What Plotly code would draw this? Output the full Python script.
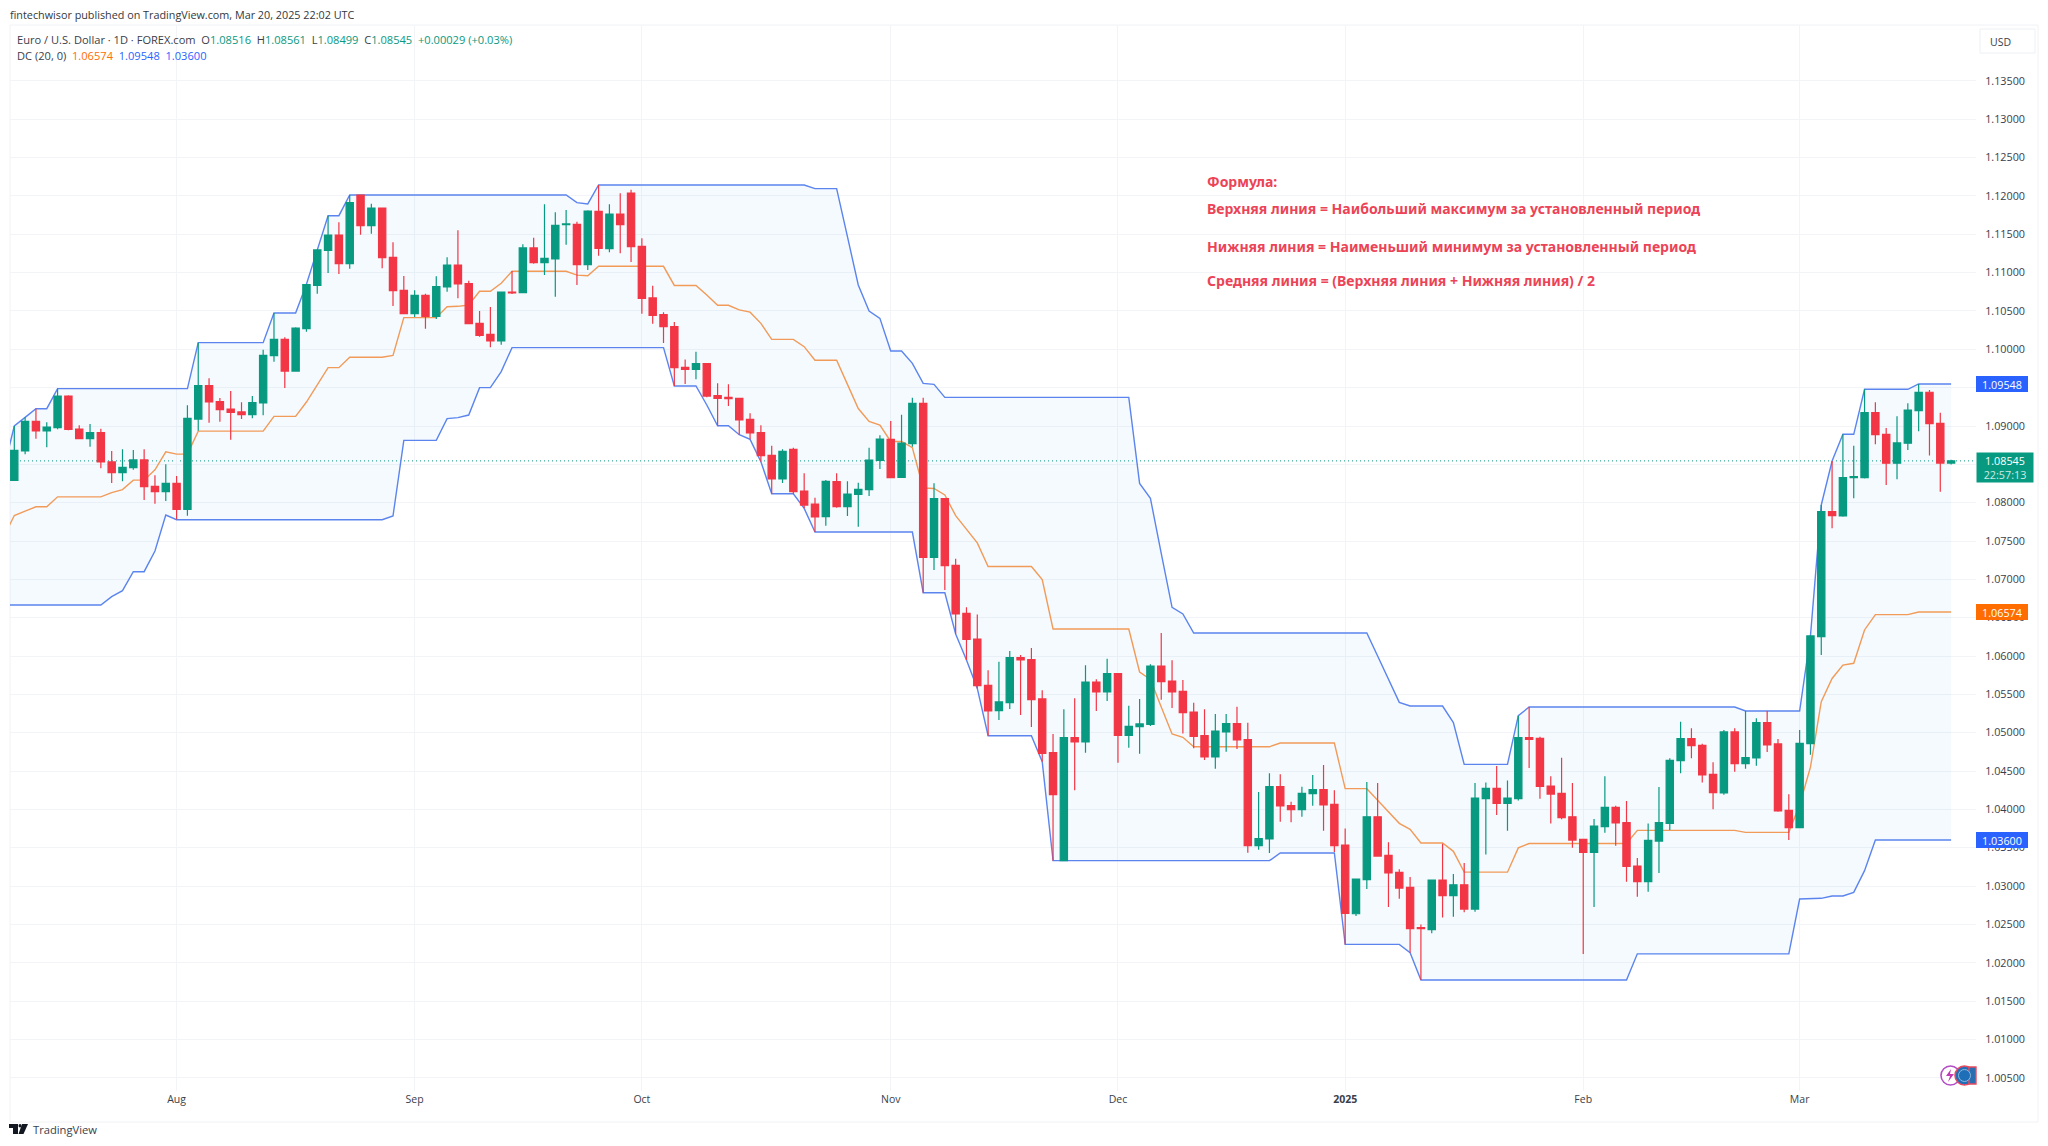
import plotly.graph_objects as go

# EUR/USD daily candles, one row per ten sessions
opens = [
    1.08291, 1.08674, 1.09061, 1.08935, 1.08978, 1.09391, 1.08961, 1.08835, 1.08913, 1.08531,
    1.08391, 1.08457, 1.08557, 1.08213, 1.08144, 1.08252, 1.07913, 1.09091, 1.09526, 1.09317,
    1.09222, 1.09183, 1.09148, 1.09300, 1.09917, 1.10130, 1.09717, 1.10270, 1.10835, 1.11291,
    1.11491, 1.11117, 1.12013, 1.11613, 1.11843, 1.11200, 1.10770, 1.10465, 1.10704, 1.10430,
    1.10813, 1.11100, 1.10856, 1.10339, 1.10196, 1.10109, 1.10748, 1.10739, 1.11322, 1.11130,
    1.11178, 1.11626, 1.11630, 1.11104, 1.11800, 1.11313, 1.11765, 1.12039, 1.11343, 1.10670,
    1.10452, 1.10296, 1.09765, 1.09739, 1.09813, 1.09396, 1.09374, 1.09361, 1.09087, 1.08913,
    1.08617, 1.08309, 1.08696, 1.08152, 1.07983, 1.07817, 1.08274, 1.07948, 1.08109, 1.08170,
    1.08552, 1.08826, 1.08330, 1.08769, 1.09296, 1.07287, 1.08052, 1.07183, 1.06556, 1.06222,
    1.05617, 1.05288, 1.05392, 1.05979, 1.05953, 1.05440, 1.04740, 1.03331, 1.04935, 1.04879,
    1.05661, 1.05531, 1.05770, 1.04966, 1.05079, 1.05109, 1.05870, 1.05674, 1.05540, 1.05270,
    1.04961, 1.04683, 1.05009, 1.05118, 1.04909, 1.03527, 1.03614, 1.04296, 1.04048, 1.03996,
    1.04205, 1.04257, 1.04065, 1.03535, 1.02639, 1.03083, 1.03904, 1.03400, 1.03178, 1.02983,
    1.02457, 1.02431, 1.03078, 1.02874, 1.03017, 1.02700, 1.04139, 1.04274, 1.04078, 1.04139,
    1.04935, 1.04926, 1.04304, 1.04209, 1.03904, 1.03609, 1.03439, 1.03774, 1.04026, 1.03826,
    1.03261, 1.03057, 1.03587, 1.03818, 1.04636, 1.04922, 1.04835, 1.04457, 1.04214, 1.05010,
    1.04596, 1.04670, 1.05131, 1.04853, 1.03988, 1.03762, 1.04857, 1.06253, 1.07883, 1.07827,
    1.08327, 1.08327, 1.09174, 1.08892, 1.08514, 1.08775, 1.09201, 1.09440, 1.09035, 1.08516,
]
highs = [
    1.09000, 1.09113, 1.09226, 1.09048, 1.09487, 1.09400, 1.09009, 1.09026, 1.08965, 1.08674,
    1.08696, 1.08687, 1.08696, 1.08357, 1.08500, 1.08348, 1.09270, 1.10087, 1.09622, 1.09365,
    1.09457, 1.09309, 1.09391, 1.09996, 1.10474, 1.10156, 1.10287, 1.10848, 1.11300, 1.11743,
    1.11656, 1.12013, 1.12017, 1.11900, 1.11848, 1.11396, 1.10956, 1.10770, 1.10726, 1.10952,
    1.11200, 1.11552, 1.10896, 1.10500, 1.10552, 1.10752, 1.11022, 1.11369, 1.11456, 1.11891,
    1.11787, 1.11817, 1.11665, 1.11813, 1.12143, 1.11891, 1.12035, 1.12082, 1.11448, 1.10830,
    1.10483, 1.10357, 1.09869, 1.09969, 1.09817, 1.09556, 1.09543, 1.09370, 1.09165, 1.09009,
    1.08743, 1.08696, 1.08717, 1.08383, 1.08065, 1.08296, 1.08383, 1.08278, 1.08261, 1.08717,
    1.08878, 1.09065, 1.09148, 1.09370, 1.09370, 1.08252, 1.08056, 1.07270, 1.06635, 1.06543,
    1.05813, 1.05927, 1.06066, 1.06014, 1.06105, 1.05553, 1.04983, 1.05305, 1.05448, 1.05879,
    1.05696, 1.05966, 1.05775, 1.05353, 1.05440, 1.05892, 1.06300, 1.05944, 1.05688, 1.05392,
    1.05305, 1.05244, 1.05244, 1.05340, 1.05131, 1.04227, 1.04470, 1.04457, 1.04101, 1.04296,
    1.04448, 1.04579, 1.04248, 1.03752, 1.03095, 1.04357, 1.04343, 1.03570, 1.03218, 1.03118,
    1.02500, 1.03083, 1.03552, 1.03157, 1.03300, 1.04343, 1.04352, 1.04565, 1.04378, 1.05222,
    1.05335, 1.04948, 1.04431, 1.04674, 1.04343, 1.03613, 1.03874, 1.04431, 1.04048, 1.04109,
    1.03365, 1.03817, 1.04291, 1.04666, 1.05144, 1.05057, 1.04857, 1.04614, 1.05036, 1.05057,
    1.05283, 1.05188, 1.05283, 1.04918, 1.04196, 1.05036, 1.06262, 1.07970, 1.08544, 1.08892,
    1.08744, 1.09479, 1.09309, 1.08974, 1.09127, 1.09296, 1.09548, 1.09470, 1.09174, 1.08561,
]
lows = [
    1.08283, 1.08631, 1.08835, 1.08722, 1.08957, 1.08944, 1.08826, 1.08730, 1.08448, 1.08257,
    1.08278, 1.08430, 1.08035, 1.07987, 1.08022, 1.07783, 1.07831, 1.08939, 1.09044, 1.09057,
    1.08822, 1.09091, 1.09100, 1.09139, 1.09839, 1.09496, 1.09709, 1.10230, 1.10726, 1.10996,
    1.10983, 1.11052, 1.11496, 1.11509, 1.11056, 1.10565, 1.10456, 1.10422, 1.10270, 1.10396,
    1.10752, 1.10665, 1.10326, 1.10165, 1.10026, 1.10061, 1.10722, 1.10735, 1.11117, 1.10970,
    1.10687, 1.11365, 1.10839, 1.11035, 1.11222, 1.11265, 1.11252, 1.11139, 1.10465, 1.10335,
    1.10083, 1.09522, 1.09548, 1.09609, 1.09374, 1.09004, 1.09261, 1.08887, 1.08826, 1.08535,
    1.08117, 1.08256, 1.08113, 1.07926, 1.07617, 1.07700, 1.07935, 1.07826, 1.07687, 1.08087,
    1.08439, 1.08317, 1.08322, 1.08730, 1.06826, 1.07122, 1.06861, 1.06287, 1.05948, 1.05578,
    1.04961, 1.05166, 1.05309, 1.05231, 1.05075, 1.04622, 1.03331, 1.03331, 1.04248, 1.04740,
    1.05283, 1.05414, 1.04609, 1.04805, 1.04727, 1.05088, 1.05431, 1.05322, 1.04988, 1.04796,
    1.04644, 1.04531, 1.04753, 1.04788, 1.03435, 1.03475, 1.03431, 1.03840, 1.03831, 1.03905,
    1.04048, 1.03722, 1.03444, 1.02239, 1.02609, 1.02961, 1.03383, 1.02726, 1.02835, 1.02131,
    1.01774, 1.02383, 1.02591, 1.02600, 1.02657, 1.02665, 1.03413, 1.03926, 1.03722, 1.04117,
    1.04539, 1.04139, 1.03817, 1.03870, 1.03500, 1.02113, 1.02726, 1.03696, 1.03526, 1.03057,
    1.02861, 1.02926, 1.03170, 1.03731, 1.04470, 1.04666, 1.04349, 1.04001, 1.04192, 1.04492,
    1.04531, 1.04570, 1.04749, 1.03970, 1.03601, 1.03753, 1.04714, 1.06014, 1.07666, 1.07818,
    1.08057, 1.08314, 1.08761, 1.08231, 1.08305, 1.08688, 1.08931, 1.08614, 1.08144, 1.08499,
]
closes = [
    1.08683, 1.09061, 1.08935, 1.08987, 1.09391, 1.08957, 1.08835, 1.08913, 1.08531, 1.08391,
    1.08461, 1.08557, 1.08209, 1.08144, 1.08252, 1.07913, 1.09100, 1.09526, 1.09313, 1.09213,
    1.09178, 1.09148, 1.09304, 1.09922, 1.10130, 1.09717, 1.10278, 1.10844, 1.11296, 1.11491,
    1.11117, 1.11913, 1.11613, 1.11843, 1.11196, 1.10765, 1.10465, 1.10704, 1.10430, 1.10817,
    1.11100, 1.10852, 1.10335, 1.10183, 1.10109, 1.10748, 1.10735, 1.11322, 1.11130, 1.11187,
    1.11617, 1.11635, 1.11104, 1.11804, 1.11317, 1.11765, 1.11626, 1.11339, 1.10665, 1.10443,
    1.10296, 1.09761, 1.09739, 1.09813, 1.09391, 1.09361, 1.09356, 1.09078, 1.08909, 1.08613,
    1.08309, 1.08669, 1.08143, 1.07969, 1.07813, 1.08278, 1.07948, 1.08113, 1.08174, 1.08556,
    1.08830, 1.08326, 1.08778, 1.09296, 1.07287, 1.08052, 1.07178, 1.06548, 1.06217, 1.05613,
    1.05283, 1.05401, 1.05979, 1.05948, 1.05431, 1.04731, 1.04192, 1.04935, 1.04879, 1.05661,
    1.05531, 1.05770, 1.04966, 1.05083, 1.05114, 1.05870, 1.05666, 1.05531, 1.05261, 1.04953,
    1.04683, 1.05022, 1.05118, 1.04905, 1.03527, 1.03618, 1.04296, 1.04044, 1.03996, 1.04209,
    1.04257, 1.04057, 1.03526, 1.02644, 1.03091, 1.03904, 1.03391, 1.03170, 1.02974, 1.02444,
    1.02444, 1.03078, 1.02874, 1.03017, 1.02700, 1.04148, 1.04274, 1.04078, 1.04148, 1.04935,
    1.04913, 1.04300, 1.04200, 1.03891, 1.03600, 1.03439, 1.03783, 1.04026, 1.03822, 1.03257,
    1.03057, 1.03596, 1.03826, 1.04640, 1.04922, 1.04831, 1.04449, 1.04218, 1.05010, 1.04596,
    1.04675, 1.05131, 1.04840, 1.03979, 1.03762, 1.04862, 1.06262, 1.07883, 1.07831, 1.08327,
    1.08340, 1.09174, 1.08888, 1.08514, 1.08779, 1.09209, 1.09440, 1.09031, 1.08516, 1.08545,
]

# Donchian channel (20, 0); the first value belongs to the session before the first candle
dc_upper = [
    1.08426,
    1.09000, 1.09113, 1.09226, 1.09226, 1.09487, 1.09487, 1.09487, 1.09487, 1.09487, 1.09487,
    1.09487, 1.09487, 1.09487, 1.09487, 1.09487, 1.09487, 1.09487, 1.10087, 1.10087, 1.10087,
    1.10087, 1.10087, 1.10087, 1.10087, 1.10474, 1.10474, 1.10474, 1.10848, 1.11300, 1.11743,
    1.11743, 1.12013, 1.12013, 1.12013, 1.12013, 1.12013, 1.12013, 1.12013, 1.12013, 1.12013,
    1.12013, 1.12013, 1.12013, 1.12013, 1.12013, 1.12013, 1.12013, 1.12013, 1.12013, 1.12013,
    1.12013, 1.12013, 1.11913, 1.11896, 1.12143, 1.12143, 1.12143, 1.12143, 1.12143, 1.12143,
    1.12143, 1.12143, 1.12143, 1.12143, 1.12143, 1.12143, 1.12143, 1.12143, 1.12143, 1.12143,
    1.12143, 1.12143, 1.12143, 1.12143, 1.12096, 1.12096, 1.12096, 1.11469, 1.10839, 1.10500,
    1.10404, 1.09978, 1.09978, 1.09817, 1.09556, 1.09543, 1.09374, 1.09374, 1.09374, 1.09374,
    1.09374, 1.09374, 1.09374, 1.09374, 1.09374, 1.09374, 1.09374, 1.09374, 1.09374, 1.09374,
    1.09374, 1.09374, 1.09374, 1.09374, 1.08252, 1.08057, 1.07339, 1.06635, 1.06548, 1.06300,
    1.06300, 1.06300, 1.06300, 1.06300, 1.06300, 1.06300, 1.06300, 1.06300, 1.06300, 1.06300,
    1.06300, 1.06300, 1.06300, 1.06300, 1.06300, 1.06300, 1.06000, 1.05687, 1.05396, 1.05348,
    1.05348, 1.05348, 1.05348, 1.05131, 1.04587, 1.04587, 1.04587, 1.04587, 1.04587, 1.05222,
    1.05335, 1.05335, 1.05335, 1.05335, 1.05335, 1.05335, 1.05335, 1.05335, 1.05335, 1.05335,
    1.05335, 1.05335, 1.05335, 1.05335, 1.05335, 1.05335, 1.05335, 1.05335, 1.05335, 1.05335,
    1.05283, 1.05283, 1.05283, 1.05283, 1.05283, 1.05283, 1.06262, 1.07970, 1.08544, 1.08892,
    1.08892, 1.09479, 1.09479, 1.09479, 1.09479, 1.09479, 1.09548, 1.09548, 1.09548, 1.09548,
]
dc_lower = [
    1.06665,
    1.06665, 1.06665, 1.06665, 1.06665, 1.06665, 1.06665, 1.06665, 1.06665, 1.06665, 1.06774,
    1.06852, 1.07100, 1.07100, 1.07370, 1.07839, 1.07778, 1.07778, 1.07778, 1.07778, 1.07778,
    1.07778, 1.07778, 1.07778, 1.07778, 1.07778, 1.07778, 1.07778, 1.07778, 1.07778, 1.07778,
    1.07778, 1.07778, 1.07778, 1.07778, 1.07778, 1.07826, 1.08813, 1.08813, 1.08813, 1.08813,
    1.09096, 1.09109, 1.09143, 1.09500, 1.09500, 1.09709, 1.10022, 1.10022, 1.10022, 1.10022,
    1.10022, 1.10022, 1.10022, 1.10022, 1.10022, 1.10022, 1.10022, 1.10022, 1.10022, 1.10022,
    1.10022, 1.09522, 1.09522, 1.09522, 1.09274, 1.09004, 1.09004, 1.08887, 1.08826, 1.08535,
    1.08117, 1.08117, 1.08117, 1.07926, 1.07617, 1.07617, 1.07617, 1.07617, 1.07617, 1.07617,
    1.07617, 1.07617, 1.07617, 1.07617, 1.06826, 1.06826, 1.06826, 1.06287, 1.05948, 1.05578,
    1.04961, 1.04961, 1.04961, 1.04961, 1.04961, 1.04622, 1.03331, 1.03331, 1.03331, 1.03331,
    1.03331, 1.03331, 1.03331, 1.03331, 1.03331, 1.03331, 1.03331, 1.03331, 1.03331, 1.03331,
    1.03331, 1.03331, 1.03331, 1.03331, 1.03331, 1.03331, 1.03331, 1.03431, 1.03431, 1.03431,
    1.03431, 1.03431, 1.03431, 1.02239, 1.02239, 1.02239, 1.02239, 1.02239, 1.02239, 1.02131,
    1.01774, 1.01774, 1.01774, 1.01774, 1.01774, 1.01774, 1.01774, 1.01774, 1.01774, 1.01774,
    1.01774, 1.01774, 1.01774, 1.01774, 1.01774, 1.01774, 1.01774, 1.01774, 1.01774, 1.01774,
    1.02116, 1.02116, 1.02116, 1.02116, 1.02116, 1.02116, 1.02116, 1.02116, 1.02116, 1.02116,
    1.02116, 1.02116, 1.02116, 1.02116, 1.02116, 1.02831, 1.02840, 1.02840, 1.02870, 1.02870,
    1.02918, 1.03201, 1.03600, 1.03600, 1.03600, 1.03600, 1.03600, 1.03600, 1.03600, 1.03600,
]
dc_middle = [
    1.07546,
    1.07833, 1.07889, 1.07946, 1.07946, 1.08076, 1.08076, 1.08076, 1.08076, 1.08076, 1.08131,
    1.08170, 1.08294, 1.08294, 1.08429, 1.08663, 1.08633, 1.08633, 1.08933, 1.08933, 1.08933,
    1.08933, 1.08933, 1.08933, 1.08933, 1.09126, 1.09126, 1.09126, 1.09313, 1.09539, 1.09761,
    1.09761, 1.09896, 1.09896, 1.09896, 1.09896, 1.09920, 1.10413, 1.10413, 1.10413, 1.10413,
    1.10555, 1.10561, 1.10578, 1.10757, 1.10757, 1.10861, 1.11018, 1.11018, 1.11018, 1.11018,
    1.11018, 1.11018, 1.10968, 1.10959, 1.11083, 1.11083, 1.11083, 1.11083, 1.11083, 1.11083,
    1.11083, 1.10833, 1.10833, 1.10833, 1.10709, 1.10574, 1.10574, 1.10515, 1.10485, 1.10339,
    1.10130, 1.10130, 1.10130, 1.10035, 1.09857, 1.09857, 1.09857, 1.09543, 1.09228, 1.09059,
    1.09011, 1.08798, 1.08798, 1.08717, 1.08191, 1.08185, 1.08100, 1.07831, 1.07661, 1.07476,
    1.07168, 1.07168, 1.07168, 1.07168, 1.07168, 1.06998, 1.06353, 1.06353, 1.06353, 1.06353,
    1.06353, 1.06353, 1.06353, 1.06353, 1.05792, 1.05694, 1.05335, 1.04983, 1.04940, 1.04816,
    1.04816, 1.04816, 1.04816, 1.04816, 1.04816, 1.04816, 1.04816, 1.04866, 1.04866, 1.04866,
    1.04866, 1.04866, 1.04866, 1.04270, 1.04270, 1.04270, 1.04120, 1.03963, 1.03818, 1.03740,
    1.03561, 1.03561, 1.03561, 1.03453, 1.03181, 1.03181, 1.03181, 1.03181, 1.03181, 1.03498,
    1.03555, 1.03555, 1.03555, 1.03555, 1.03555, 1.03555, 1.03555, 1.03555, 1.03555, 1.03555,
    1.03726, 1.03726, 1.03726, 1.03726, 1.03726, 1.03726, 1.03726, 1.03726, 1.03726, 1.03726,
    1.03700, 1.03700, 1.03700, 1.03700, 1.03700, 1.04057, 1.04551, 1.05405, 1.05707, 1.05881,
    1.05905, 1.06340, 1.06540, 1.06540, 1.06540, 1.06540, 1.06574, 1.06574, 1.06574, 1.06574,
]

sessions = list(range(len(closes)))
dc_sessions = list(range(-1, len(closes)))

month_positions = [15, 37, 58, 81, 102, 123, 145, 165]
month_labels = ["Aug", "Sep", "Oct", "Nov", "Dec", "<b>2025</b>", "Feb", "Mar"]
price_ticks = [1.005, 1.01, 1.015, 1.02, 1.025, 1.03, 1.035, 1.04, 1.045, 1.05, 1.055, 1.06,
               1.065, 1.07, 1.075, 1.08, 1.085, 1.09, 1.095, 1.10, 1.105, 1.11, 1.115, 1.12,
               1.125, 1.13, 1.135]
last_price = 1.08545
formula_lines = [
    "Формула:",
    "Верхняя линия = Наибольший максимум за установленный период",
    "Нижняя линия = Наименьший минимум за установленный период",
    "Средняя линия = (Верхняя линия + Нижняя линия) / 2",
]

GREEN = "#089981"
RED = "#F23645"
BLUE = "#2962FF"
ORANGE = "#FF6D00"
GRID = "#F3F4F7"
TEXT = "#3A3E4A"
FONT = "Open Sans"

# Pane geometry in page pixels, used for layout furniture only
W, H = 2048, 1146
LEFT, RIGHT, TOP, BOTTOM = 10, 1976, 25, 1091


def px(x):
    return (x - LEFT) / (RIGHT - LEFT)


def py(y):
    return (BOTTOM - y) / (BOTTOM - TOP)


fig = go.Figure()

# Channel goes on the primary axis so the candles on the overlaid axis sit on top of it
fig.add_trace(go.Scatter(x=dc_sessions, y=dc_upper, mode="lines",
                         line=dict(color="#5B84EE", width=1.4), hoverinfo="skip"))
fig.add_trace(go.Scatter(x=dc_sessions, y=dc_lower, mode="lines",
                         line=dict(color="#5B84EE", width=1.4), hoverinfo="skip",
                         fill="tonexty", fillcolor="rgba(33,150,243,0.05)"))
fig.add_trace(go.Scatter(x=dc_sessions, y=dc_middle, mode="lines",
                         line=dict(color="#F29A58", width=1.4), hoverinfo="skip"))
fig.add_trace(go.Candlestick(
    x=sessions, open=opens, high=highs, low=lows, close=closes, yaxis="y2",
    whiskerwidth=0,
    increasing=dict(line=dict(color=GREEN, width=1.2), fillcolor=GREEN),
    decreasing=dict(line=dict(color=RED, width=1.2), fillcolor=RED),
))

annotations = []


def label(x, y, text, size=11, color=TEXT, family=FONT, anchor="left", **kw):
    annotations.append(dict(x=px(x), y=py(y), xref="paper", yref="paper", text=text,
                            showarrow=False, xanchor=anchor, yanchor="middle", align="left",
                            font=dict(size=size, color=color, family=family), **kw))


def span(text, color):
    return f'<span style="color:{color}">{text}</span>'


label(8, 14, "fintechwisor published on TradingView.com, Mar 20, 2025 22:02 UTC", size=10.8, color="#333740")
label(15, 39.5, "Euro / U.S. Dollar · 1D · FOREX.com&nbsp;&nbsp;O" + span("1.08516", GREEN)
      + "&nbsp;&nbsp;H" + span("1.08561", GREEN) + "&nbsp;&nbsp;L" + span("1.08499", GREEN)
      + "&nbsp;&nbsp;C" + span("1.08545", GREEN) + "&nbsp;&nbsp;" + span("+0.00029 (+0.03%)", GREEN),
      size=11.1)
label(15, 55, "DC (20, 0)&nbsp;&nbsp;" + span("1.06574", ORANGE) + "&nbsp;&nbsp;"
      + span("1.09548", BLUE) + "&nbsp;&nbsp;" + span("1.03600", BLUE), size=11.1)

for y, line in zip([181.5, 209, 246.5, 280], formula_lines):
    label(1205, y, f"<b>{line}</b>", size=14.03, color="#EC4356", family="Noto Sans")

# Price tags on the scale
for value, text, colour in [(1.09548, "1.09548", BLUE), (1.06574, "1.06574", ORANGE), (1.03600, "1.03600", BLUE)]:
    annotations.append(dict(x=px(1976), y=value, xref="paper", yref="y", text=text, showarrow=False,
                            xanchor="left", yanchor="middle", bgcolor=colour, borderpad=2, borderwidth=0,
                            width=48, height=12, font=dict(size=10.8, color="white", family=FONT)))
annotations.append(dict(x=px(1976), y=py(467.5), xref="paper", yref="paper",
                        text="1.08545<br><span style='color:#CDEBE5'>22:57:13</span>",
                        showarrow=False, xanchor="left", yanchor="middle", bgcolor=GREEN, borderpad=2,
                        width=52, height=25, font=dict(size=10.8, color="white", family=FONT)))

label(1988, 42, "USD", size=10.5, color="#3A3E4A")
label(31, 1129, "TradingView", size=11.2, color="#3A3E4A")

shapes = [
    # outline of the chart pane and price scale
    dict(type="rect", xref="paper", yref="paper", x0=0, x1=px(2038), y0=py(1122), y1=1,
         line=dict(color="#F1F2F6", width=1), layer="below"),
    # USD button
    dict(type="rect", xref="paper", yref="paper", x0=px(1980), x1=px(2035), y0=py(53), y1=py(29),
         line=dict(color="#EEF0F4", width=1), fillcolor="white", layer="below"),
    # last price line
    dict(type="line", xref="paper", yref="y", x0=px(20), x1=1, y0=last_price, y1=last_price,
         line=dict(color=GREEN, width=1, dash="1px,3px"), layer="below"),
]

# Event markers at the bottom of the pane
for x0, fill, ring in [(1941, "white", "#B44FC4"), (1955, "#1F6FB8", "#E84A5F")]:
    shapes.append(dict(type="circle", xref="paper", yref="paper", x0=px(x0), x1=px(x0 + 19),
                       y0=py(1085), y1=py(1066), fillcolor=fill, line=dict(color=ring, width=1.6)))
shapes.append(dict(type="path", xref="paper", yref="paper",
                   path=f"M {px(1969)} {py(1067)} L {px(1976)} {py(1067)} L {px(1976)} {py(1084)} L {px(1969)} {py(1084)} Z",
                   fillcolor="#2A6DB0", line=dict(color="#E84A5F", width=1.4)))
shapes.append(dict(type="circle", xref="paper", yref="paper", x0=px(1958.5), x1=px(1970.5),
                   y0=py(1081.5), y1=py(1069.5), fillcolor="#1F6FB8", line=dict(color="#8FB8E0", width=1)))
shapes.append(dict(type="path", xref="paper", yref="paper",
                   path=f"M {px(1951)} {py(1069)} L {px(1946)} {py(1076)} L {px(1950)} {py(1076)} L {px(1948)} {py(1082)} L {px(1954)} {py(1074)} L {px(1950)} {py(1074)} Z",
                   fillcolor="#C238B5", line=dict(width=0)))

# Footer logo
shapes.append(dict(type="path", xref="paper", yref="paper",
                   path=f"M {px(9)} {py(1124)} L {px(18)} {py(1124)} L {px(18)} {py(1134)} L {px(13)} {py(1134)} L {px(13)} {py(1128)} L {px(9)} {py(1128)} Z",
                   fillcolor="#131722", line=dict(width=0)))
shapes.append(dict(type="circle", xref="paper", yref="paper", x0=px(18.5), x1=px(21.5),
                   y0=py(1127.5), y1=py(1124), fillcolor="#131722", line=dict(width=0)))
shapes.append(dict(type="path", xref="paper", yref="paper",
                   path=f"M {px(22)} {py(1124)} L {px(28)} {py(1124)} L {px(23.5)} {py(1134)} L {px(18.5)} {py(1134)} Z",
                   fillcolor="#131722", line=dict(width=0)))

price_range = [1.00327, 1.14230]
fig.update_layout(
    width=W, height=H, margin=dict(l=LEFT, r=W - RIGHT, t=TOP, b=H - BOTTOM, autoexpand=False),
    paper_bgcolor="white", plot_bgcolor="white", showlegend=False,
    boxgap=0.18, boxgroupgap=0.18,
    shapes=shapes, annotations=annotations,
    font=dict(family=FONT, color=TEXT),
    xaxis=dict(range=[-0.397, 181.3], tickvals=month_positions, ticktext=month_labels,
               showgrid=True, gridcolor=GRID, gridwidth=1, zeroline=False, showline=False,
               ticks="", tickfont=dict(size=10.5, color=TEXT),
               rangeslider=dict(visible=False)),
    yaxis=dict(range=price_range, side="right", tickvals=price_ticks,
               ticktext=[f"{v:.5f}" for v in price_ticks],
               showgrid=True, gridcolor=GRID, gridwidth=1, zeroline=False, showline=False,
               ticks="outside", ticklen=6, tickcolor="rgba(0,0,0,0)", tickfont=dict(size=10.8, color=TEXT)),
    yaxis2=dict(range=price_range, overlaying="y", side="right", showgrid=False, showticklabels=False,
                zeroline=False, ticks=""),
)

fig.write_html("out.html", config=dict(displayModeBar=False))
